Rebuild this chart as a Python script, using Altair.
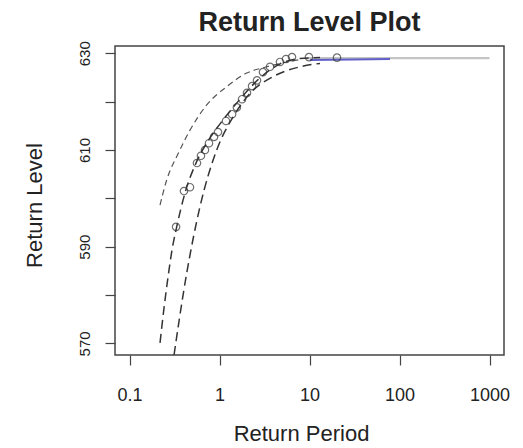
import altair as alt
import pandas as pd

# Observed return levels (open circles)
obs_period = [0.329, 0.403, 0.470, 0.562, 0.622, 0.690, 0.764, 0.869, 0.962, 1.18, 1.38,
              1.56, 1.78, 2.02, 2.30, 2.61, 3.04, 3.64, 4.70, 5.48, 6.39, 9.86, 20.2]
obs_level = [594.1, 601.5, 602.3, 607.3, 608.8, 610.0, 611.4, 612.7, 613.7, 616.0, 617.4,
             618.8, 620.5, 621.8, 623.2, 624.4, 626.1, 627.2, 628.2, 628.8, 629.2, 629.2, 629.1]

# Fitted return level curve
fit_period = [0.2183, 0.2417, 0.2679, 0.2966, 0.3344, 0.4137, 0.5579, 0.7842, 1.094,
              1.690, 2.818, 4.701, 7.844, 13.08]
fit_level = [570.1, 577.3, 583.7, 589.3, 594.1, 601.1, 607.6, 612.5, 616.2,
             620.5, 624.9, 627.8, 628.9, 629.1]

# Upper confidence bound
upper_period = [0.2183, 0.2590, 0.3484, 0.4701, 0.7208, 1.202, 2.005, 3.345, 7.844]
upper_level = [598.6, 603.8, 609.3, 614.1, 619.3, 623.1, 625.9, 627.2, 628.7]

# Lower confidence bound
lower_period = [0.2966, 0.4320, 0.6072, 0.9309, 1.423, 2.183, 3.961, 7.844, 13.08]
lower_level = [564.7, 584.5, 598.3, 610.0, 616.9, 621.7, 625.2, 627.2, 627.9]

# Blue segment near the upper bound
blue_period = [10.1, 30.0, 78.4]
blue_level = [628.6, 628.7, 628.8]

# Grey line out to 1000 years
grey_period = [9.4, 1000.0]
grey_level = [629.0, 629.0]

x_ticks = [0.1, 1, 10, 100, 1000]
y_ticks = [570, 580, 590, 600, 610, 620, 630]

FONT = "Liberation Sans"

xscale = alt.Scale(type="log", domain=[0.069, 1449], nice=False)
yscale = alt.Scale(domain=[567.6, 631.5], nice=False, zero=False)

xaxis = alt.Axis(
    values=x_ticks, format="~g", title="Return Period", grid=False, domain=False,
    tickSize=10, tickColor="#444", tickWidth=1.2,
    labelFont=FONT, labelFontSize=18, labelColor="#222", labelPadding=21,
    labelOverlap=False, labelFlush=False,
    titleFont=FONT, titleFontSize=22, titleFontWeight="normal", titleColor="#222",
    titleX=186, titleY=78, titleBaseline="middle", titleAlign="center",
)
yaxis = alt.Axis(
    values=y_ticks, labelExpr="datum.value % 20 == 10 ? datum.label : ''",
    title="Return Level", grid=False, domain=False,
    tickSize=10, tickColor="#444", tickWidth=1.2,
    labelFont=FONT, labelFontSize=15, labelColor="#222", labelPadding=13,
    labelAngle=270, labelAlign="center", labelBaseline="bottom", labelOverlap=False,
    titleFont=FONT, titleFontSize=22, titleFontWeight="normal", titleColor="#222",
    titleAngle=270, titleX=-81, titleY=159, titleBaseline="middle", titleAlign="center",
)


def frame(p, l):
    return pd.DataFrame({"period": p, "level": l})


def enc(chart):
    return chart.encode(
        x=alt.X("period:Q", scale=xscale, axis=xaxis),
        y=alt.Y("level:Q", scale=yscale, axis=yaxis),
    )


grey = enc(alt.Chart(frame(grey_period, grey_level)).mark_line(
    color="#c4c4c4", strokeWidth=2.2, clip=True))
upper = enc(alt.Chart(frame(upper_period, upper_level)).mark_line(
    color="#555", strokeWidth=1.2, strokeDash=[6, 4], interpolate="monotone", clip=True))
lower = enc(alt.Chart(frame(lower_period, lower_level)).mark_line(
    color="#333", strokeWidth=1.5, strokeDash=[9, 5], interpolate="monotone", clip=True))
fit = enc(alt.Chart(frame(fit_period, fit_level)).mark_line(
    color="#333", strokeWidth=1.5, strokeDash=[9, 5], interpolate="monotone", clip=True))
blue = enc(alt.Chart(frame(blue_period, blue_level)).mark_line(
    color="#6060c8", strokeWidth=2, clip=True))
pts = enc(alt.Chart(frame(obs_period, obs_level)).mark_point(
    shape="circle", filled=False, size=55, color="#333", strokeWidth=1.2, clip=True))

chart = alt.layer(grey, upper, lower, fit, blue, pts).properties(
    width=389, height=309,
    padding={"left": 115, "top": 46, "right": 19, "bottom": 93},
    autosize=alt.AutoSizeParams(type="none"),
    title=alt.Title("Return Level Plot", font=FONT, fontSize=27, fontWeight="bold",
                    color="#222", anchor="middle", offset=4),
).configure(background="white").configure_view(stroke="#444", strokeWidth=1.5)

chart.save("out.html", embed_options={"renderer": "svg", "actions": False})
